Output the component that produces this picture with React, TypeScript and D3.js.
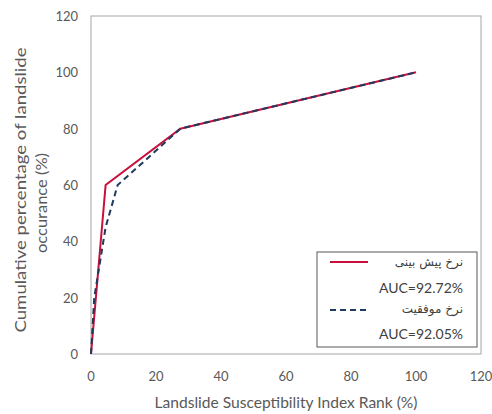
import React from "react";
import * as d3 from "d3";

const xTicks = [0, 20, 40, 60, 80, 100, 120];
const yTicks = [0, 20, 40, 60, 80, 100, 120];
const predX = [0, 4.5, 27.5, 100];
const predY = [0, 60, 80, 100];
const succX = [0, 1, 4.5, 8.2, 15, 27.5, 100];
const succY = [0, 20, 45, 60, 67, 80, 100];
const legendLabels = ["نرخ پیش بینی", "AUC=92.72%", "نرخ موفقیت", "AUC=92.05%"];

const W = 492, H = 414;
const m = { left: 91, right: 11, top: 16, bottom: 60 };

export default function App() {
  const x = d3.scaleLinear().domain([0, 120]).range([m.left, W - m.right]);
  const y = d3.scaleLinear().domain([0, 120]).range([H - m.bottom, m.top]);
  const line = d3.line<[number, number]>().x(d => x(d[0])).y(d => y(d[1]));
  const pred = line(predX.map((v, i) => [v, predY[i]] as [number, number])) || "";
  const succ = line(succX.map((v, i) => [v, succY[i]] as [number, number])) || "";
  const font = "Lato, 'Open Sans', sans-serif";
  const fa = "'DejaVu Sans', sans-serif";
  const tickCol = "#595959";
  const lx = 317, ly = 252, lw = 160, lh = 95;
  return (
    <svg width={W} height={H} style={{ position: "absolute", left: 0, top: 0 }}>
      <rect x={0} y={0} width={W} height={H} fill="#fff" />
      <rect x={x(0)} y={y(120)} width={x(120) - x(0)} height={y(0) - y(120)} fill="none" stroke="#a6a6a6" strokeWidth={1} />
      {yTicks.map(t => (
        <text key={"y" + t} x={x(0) - 13} y={y(t) + 5} textAnchor="end" fontSize={13} fill={tickCol} fontFamily={font}>{t}</text>
      ))}
      {xTicks.map(t => (
        <text key={"x" + t} x={x(t)} y={y(0) + 27} textAnchor="middle" fontSize={13} fill={tickCol} fontFamily={font}>{t}</text>
      ))}
      <path d={pred} fill="none" stroke="#c8103c" strokeWidth={2} />
      <path d={succ} fill="none" stroke="#1f3a5f" strokeWidth={2} strokeDasharray="6,4" />
      <text x={286} y={408} textAnchor="middle" fontSize={15} fill={tickCol} fontFamily={font} textLength={263} lengthAdjust="spacingAndGlyphs">Landslide Susceptibility Index Rank (%)</text>
      <text transform="translate(26,190) rotate(-90)" textAnchor="middle" fontSize={15} fill={tickCol} fontFamily={font} textLength={285} lengthAdjust="spacingAndGlyphs">Cumulative percentage of landslide</text>
      <text transform="translate(47,203) rotate(-90)" textAnchor="middle" fontSize={15} fill={tickCol} fontFamily={font} textLength={100} lengthAdjust="spacingAndGlyphs">occurance (%)</text>
      <rect x={lx} y={ly} width={lw} height={lh} fill="#fff" stroke="#595959" strokeWidth={1} />
      <line x1={330} x2={368} y1={262} y2={262} stroke="#c8103c" strokeWidth={2} />
      <line x1={330} x2={368} y1={310} y2={310} stroke="#1f3a5f" strokeWidth={2} strokeDasharray="6,4" />
      <text x={463} y={266} textAnchor="end" fontSize={12} fill="#404040" fontFamily={fa}>{legendLabels[0]}</text>
      <text x={463} y={293} textAnchor="end" fontSize={14} fill="#404040" fontFamily={font}>{legendLabels[1]}</text>
      <text x={463} y={313} textAnchor="end" fontSize={12} fill="#404040" fontFamily={fa}>{legendLabels[2]}</text>
      <text x={463} y={339} textAnchor="end" fontSize={14} fill="#404040" fontFamily={font}>{legendLabels[3]}</text>
    </svg>
  );
}
